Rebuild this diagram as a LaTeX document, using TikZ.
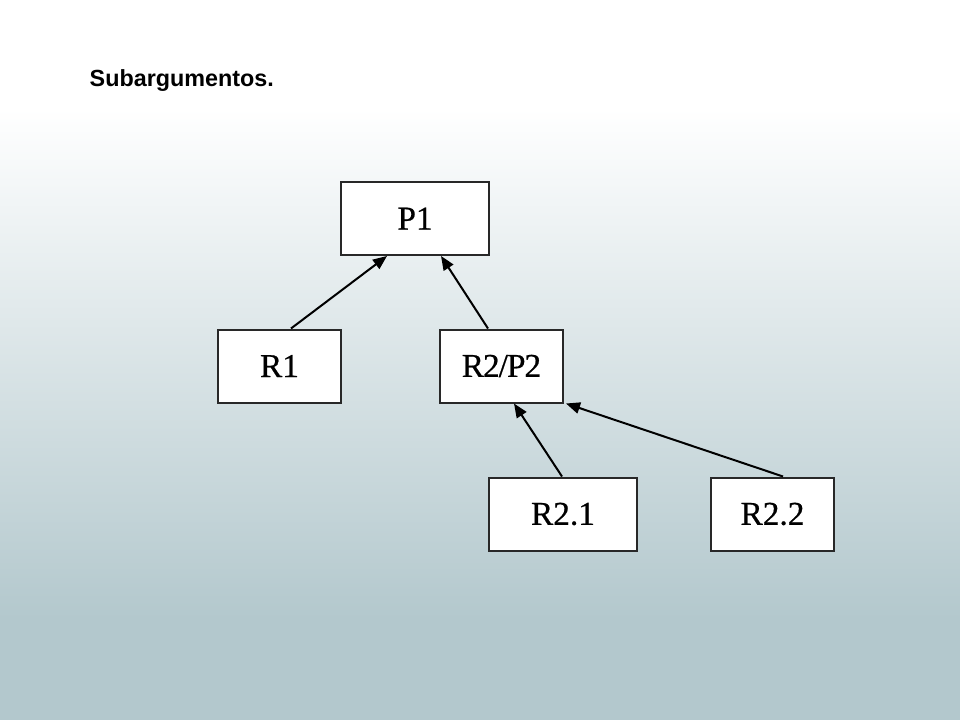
\documentclass[tikz,border=0pt]{standalone}
\usepackage{fontspec}
\setmainfont{Liberation Serif}
\newfontfamily\titlefont{Liberation Sans}
\usetikzlibrary{arrows.meta,calc}
\definecolor{bgbot}{RGB}{179,200,205}
\definecolor{boxline}{RGB}{40,40,40}
\pgfdeclareverticalshading{bgshade}{100bp}{color(0bp)=(bgbot); color(25bp)=(bgbot); color(32bp)=(bgbot); color(67.5bp)=(white); color(75bp)=(white); color(100bp)=(white)}
\tikzset{
  argbox/.style={draw=boxline, line width=1.5pt, fill=white, rectangle, inner sep=0pt, font=\fontsize{25}{28}\selectfont\addfontfeature{FakeBold=0.6}},
  widebox/.style={argbox, minimum width=111pt, minimum height=54.75pt},
  narrowbox/.style={argbox, minimum width=92.25pt, minimum height=54.75pt},
  supports/.style={line width=1.5pt, -{Triangle[length=10.5pt,width=8.5pt]}}
}
\begin{document}
\begin{tikzpicture}[x=0.75pt,y=-0.75pt]
  \useasboundingbox (0,0) rectangle (960,720);
  \shade[shading=bgshade] (0,0) rectangle (960,720);
  \node[anchor=base west, font=\titlefont\bfseries\fontsize{17.5}{20}\selectfont] (title) at (85,87) {Subargumentos.};
  \node[widebox] (P1) at (415,218.5) {P1};
  \node[narrowbox] (R1) at (279.5,366) {R1};
  \node[narrowbox] (R2P2) at (501.5,366) {\addfontfeature{LetterSpace=-3}R2/P2};
  \node[widebox] (R21) at (563,514) {R2.1};
  \node[narrowbox] (R22) at (772.5,514) {R2.2};
  \draw[supports] ($(R1.north)+(11.5,0)$) -- ($(P1.south)+(-28,0)$);
  \draw[supports] ($(R2P2.north)+(-13.5,0)$) -- ($(P1.south)+(26,0)$);
  \draw[supports] ($(R21.north)+(-1,0)$) -- ($(R2P2.south)+(12.5,0)$);
  \draw[supports] ($(R22.north)+(10.5,0)$) -- ($(R2P2.south east)+(2,0)$);
\end{tikzpicture}
\end{document}
